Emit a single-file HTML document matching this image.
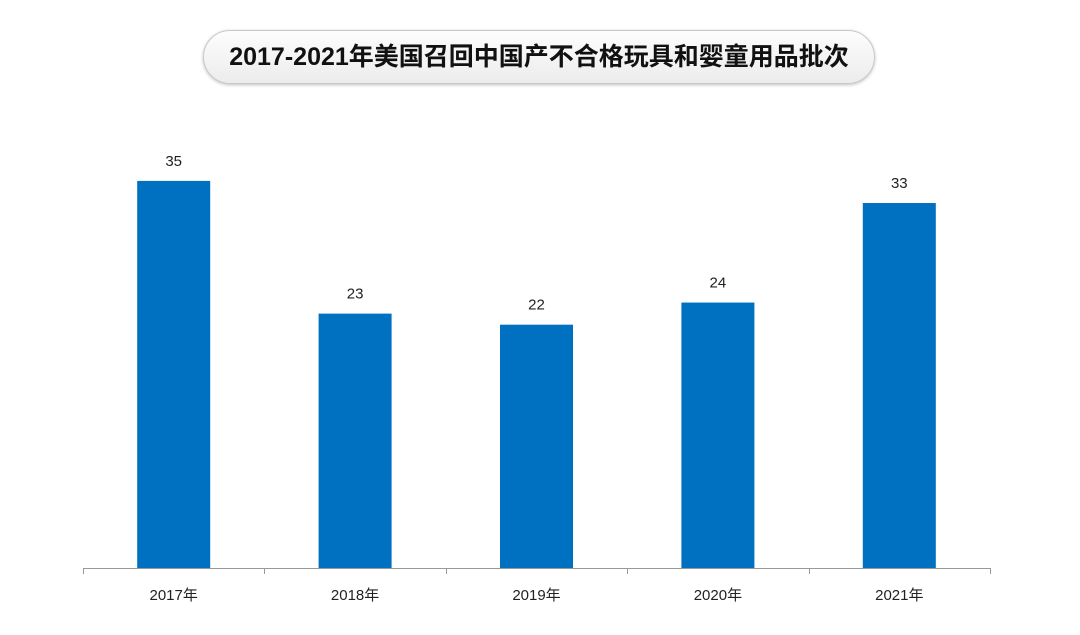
<!DOCTYPE html>
<html><head><meta charset="utf-8"><style>
body{margin:0;background:#fff;width:1080px;height:635px;overflow:hidden;font-family:"Liberation Sans","Noto Sans CJK SC",sans-serif;}
#title{position:absolute;left:203px;top:30px;width:672px;height:54px;border:1.5px solid #c8c8c8;border-radius:27px;background:linear-gradient(#fdfdfd,#ececec);box-shadow:0 1px 3px rgba(0,0,0,0.25);box-sizing:border-box;text-align:center;line-height:52px;font-size:25px;font-weight:bold;color:#111;}
svg{position:absolute;left:0;top:0;}
</style></head><body>
<div id="title">2017-2021年美国召回中国产不合格玩具和婴童用品批次</div>
<svg id="chart" width="1080" height="635"></svg>
<script>
const categories=["2017年","2018年","2019年","2020年","2021年"];
const values=[35,23,22,24,33];
const svg=document.getElementById('chart');
const NS='http://www.w3.org/2000/svg';
const x0=83,x1=990,baseY=568,pxPerUnit=11.06,barW=73;
const step=(x1-x0)/categories.length;
const xScale=i=>x0+step*(i+0.5);
const yScale=v=>baseY-v*pxPerUnit;
function mk(tag,attrs){const e=document.createElementNS(NS,tag);for(const k in attrs)e.setAttribute(k,attrs[k]);svg.appendChild(e);return e;}
categories.forEach((c,i)=>{
  const cx=xScale(i),y=yScale(values[i]);
  const r=mk('rect',{x:cx-barW/2,y:y,width:barW,height:baseY-y,fill:'#0070c0'});
  
  
  const t=mk('text',{x:cx,y:y-15,'text-anchor':'middle','font-size':15,fill:'#222'});
  t.textContent=values[i];
  
  
  const l=mk('text',{x:cx,y:600,'text-anchor':'middle','font-size':15,fill:'#222'});
  l.textContent=c;
  
  
});
const ax=mk('line',{x1:x0,y1:baseY+0.5,x2:x1,y2:baseY+0.5,stroke:'#999','stroke-width':1});


for(let i=0;i<=categories.length;i++){
  const tx=Math.round(x0+step*i)+0.5;
  const tk=mk('line',{x1:tx,y1:baseY,x2:tx,y2:baseY+6,stroke:'#999','stroke-width':1});
  
  
}
</script>
</body></html>
